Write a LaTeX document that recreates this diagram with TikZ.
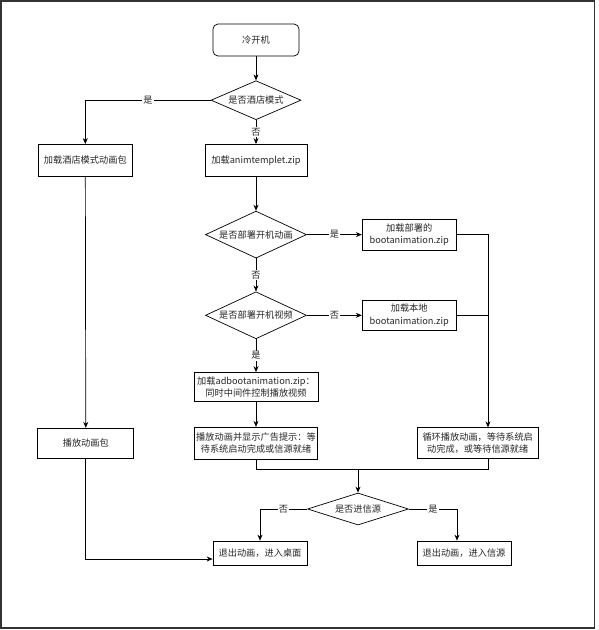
\documentclass[tikz,border=0pt]{standalone}
\usepackage{fontspec}
\setmainfont{Noto Sans CJK SC}
\usetikzlibrary{shapes.geometric, positioning, arrows.meta}

\begin{document}
\begin{tikzpicture}[x=1pt, y=-1pt, line width=0.7pt, >={Stealth[length=6pt, width=5pt]},
	every node/.style={font=\fontsize{9.2}{12.5}\selectfont, inner sep=0pt, align=center, text=black!85},
	box/.style={draw, minimum width=94pt, minimum height=31pt},
	decide/.style={draw, diamond, aspect=2.2, minimum width=101pt, minimum height=47pt},
	lbl/.style={fill=white, inner sep=1pt}]
	\useasboundingbox (0,0) rectangle (598,630);
	\draw[line width=1.1pt, black!80] (1,1) rectangle (594.5,628);

	\node[box, rounded corners=5pt, minimum width=86pt, minimum height=32pt] (start) at (256,40) {冷开机};
	\node[decide, below=24pt of start, minimum width=90pt, minimum height=39pt] (hotel) {是否酒店模式};
	\node[box, below=24pt of hotel, minimum width=102pt, minimum height=32pt] (tmpl) {加载animtemplet.zip};
	\node[box, left=72pt of tmpl, minimum height=32pt] (hotelpkg) {加载酒店模式动画包};
	\node[decide, below=34pt of tmpl] (anim) {是否部署开机动画};
	\node[box, right=55pt of anim] (deployed) {加载部署的\\bootanimation.zip};
	\node[decide, below=33pt of anim] (video) {是否部署开机视频};
	\node[box, right=55pt of video, minimum height=30pt] (local) {加载本地\\bootanimation.zip};
	\node[box, below=33pt of video, minimum width=124pt, minimum height=29pt] (adboot) {加载adbootanimation.zip：\\同时中间件控制播放视频};
	\node[box, below=25pt of adboot, minimum width=123pt, minimum height=32pt] (adplay) {播放动画并显示广告提示：等\\待系统启动完成或信源就绪};
	\node[box, left=60pt of adplay, minimum width=96pt, minimum height=30pt] (playpkg) {播放动画包};
	\node[box, right=99pt of adplay, minimum width=121pt] (loop) {循环播放动画，等待系统启\\动完成，或等待信源就绪};
	\node[decide, minimum height=32pt] (source) at (358,509) {是否进信源};
	\node[box, minimum height=24pt] (desk) at (260,553) {退出动画，进入桌面};
	\node[box, minimum height=24pt] (srcbox) at (464,553) {退出动画，进入信源};

	\coordinate (rail) at (488,0);
	\coordinate (merge) at (358,469);

	\draw[->] (start) -- (hotel);
	\draw[->] (hotel) -| node[lbl, pos=0.25]{是} (hotelpkg);
	\draw[->] (hotel) -- node[lbl]{否} (tmpl);
	\draw[->] (tmpl) -- (anim);
	\draw[->] (anim) -- node[lbl]{是} (deployed);
	\draw[->] (anim) -- node[lbl]{否} (video);
	\draw[->] (video) -- node[lbl]{否} (local);
	\draw[->] (video) -- node[lbl]{是} (adboot);
	\draw[->] (adboot) -- (adplay);
	\draw[->] (hotelpkg) -- (playpkg);
	\draw[->] (deployed) -| (loop.north -| rail);
	\draw (local) -- (local -| rail);
	\draw (adplay) |- (merge);
	\draw (loop.south -| rail) |- (merge);
	\draw[->] (merge) -- (source);
	\draw[->] (source) -| node[lbl, pos=0.25]{否} (desk);
	\draw[->] (source) -| node[lbl, pos=0.25]{是} ([xshift=-7pt]srcbox.north);
	\draw[->] (playpkg) |- ([yshift=-6pt]desk.west);
\end{tikzpicture}
\end{document}
